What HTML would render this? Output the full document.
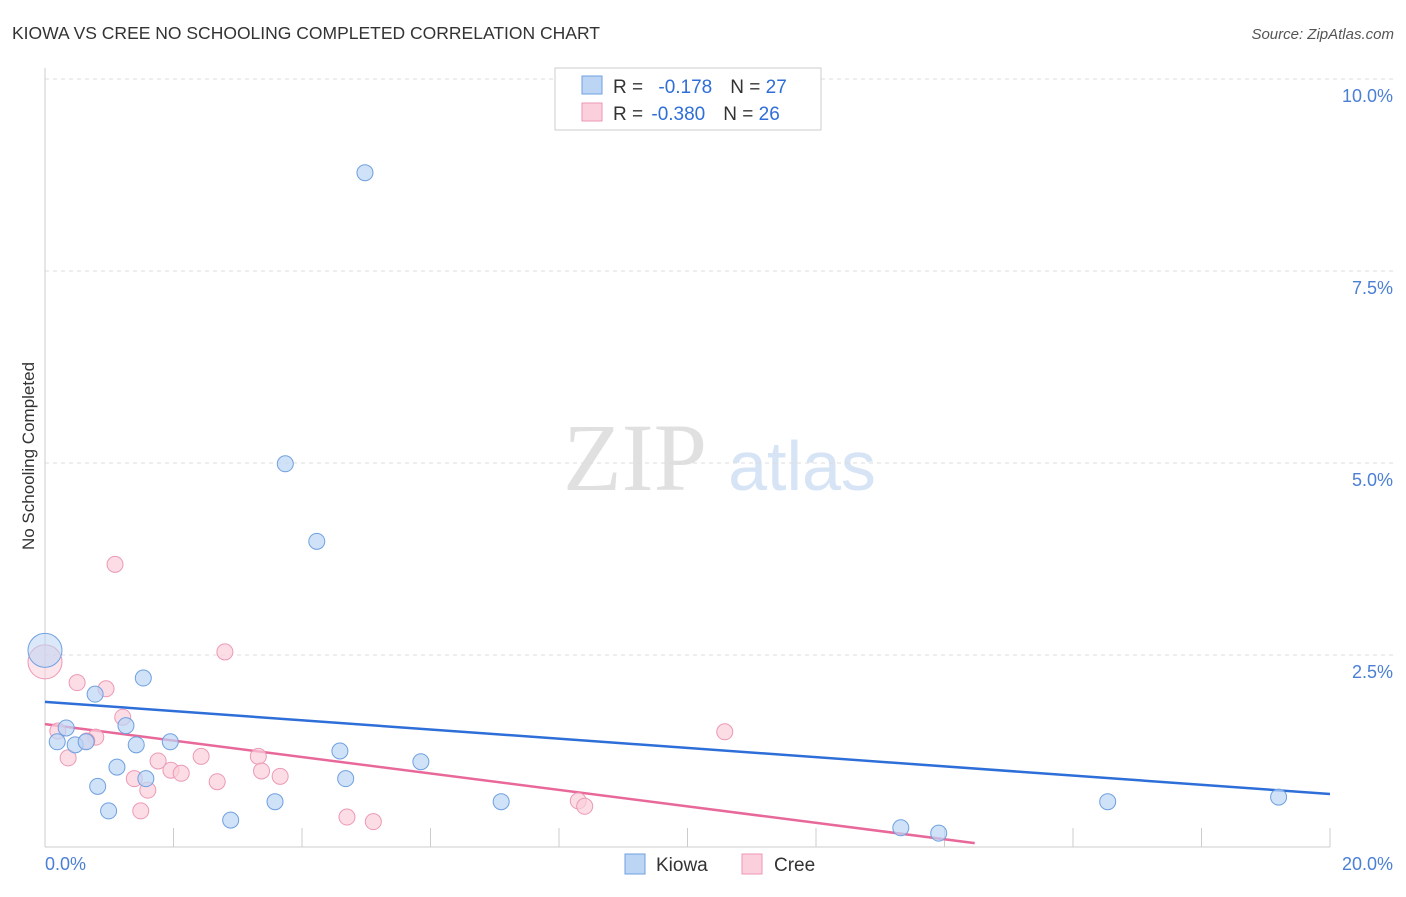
<!DOCTYPE html>
<html><head><meta charset="utf-8"><style>
body{margin:0;background:#fff;font-family:"Liberation Sans",sans-serif;}
</style></head><body>
<svg id="chart" width="1406" height="892" font-family="Liberation Sans, sans-serif">
<text x="12" y="39" font-size="17.5" fill="#333">KIOWA VS CREE NO SCHOOLING COMPLETED CORRELATION CHART</text>
<text x="1394" y="39" font-size="15" fill="#555" font-style="italic" text-anchor="end">Source: ZipAtlas.com</text>
<text x="34" y="456" font-size="17" fill="#333" text-anchor="middle" transform="rotate(-90 34 456)">No Schooling Completed</text>
<g><text x="635" y="490" font-size="96" fill="#e0e0e0" style="font-family:'Liberation Serif',serif" text-anchor="middle">ZIP</text><text x="802" y="490" font-size="70" fill="#d6e4f5" text-anchor="middle">atlas</text></g>
<g id="grid"></g><g id="axes"></g><g id="lines"></g><g id="pts"></g>
<g>
<rect x="555" y="68" width="266" height="62" fill="#fff" stroke="#ccc"/>
<rect x="582" y="76" width="20" height="18" fill="#bcd5f5" stroke="#6fa0e0"/>
<rect x="582" y="103" width="20" height="18" fill="#fbcfdc" stroke="#ec99b4"/>
<text x="613" y="93" font-size="19" fill="#333">R = <tspan fill="#2e6ed8" dx="10">-0.178</tspan><tspan fill="#333" dx="18">N = </tspan><tspan fill="#2e6ed8">27</tspan></text>
<text x="613" y="120" font-size="19" fill="#333">R = <tspan fill="#2e6ed8" dx="3">-0.380</tspan><tspan fill="#333" dx="18">N = </tspan><tspan fill="#2e6ed8">26</tspan></text>
</g>
<g>
<rect x="625" y="854" width="20" height="20" fill="#bcd5f5" stroke="#6fa0e0"/>
<text x="656" y="871" font-size="19" fill="#333">Kiowa</text>
<rect x="742" y="854" width="20" height="20" fill="#fbcfdc" stroke="#ec99b4"/>
<text x="774" y="871" font-size="19" fill="#333">Cree</text>
</g>
</svg>
<script>
const kiowaX=[4.98,3.74,4.23,0,1.53,0.78,0.33,1.26,0.19,0.47,0.64,1.42,1.95,4.59,5.85,1.12,1.57,4.68,0.82,0.99,2.89,3.58,7.10,16.54,19.2,13.32,13.91];
const kiowaY=[8.78,4.99,3.98,2.56,2.20,1.99,1.55,1.58,1.37,1.33,1.37,1.33,1.37,1.25,1.11,1.04,0.89,0.89,0.79,0.47,0.35,0.59,0.59,0.59,0.65,0.25,0.18];
const creeX=[0,1.09,2.80,0.50,0.95,1.21,0.20,0.79,0.36,2.43,3.32,1.76,1.96,2.12,3.37,3.66,1.39,1.60,2.68,1.49,4.70,5.11,8.30,8.40,10.58,0.65];
const creeY=[2.41,3.68,2.54,2.14,2.06,1.69,1.51,1.43,1.16,1.18,1.18,1.12,1.00,0.96,0.99,0.92,0.89,0.74,0.85,0.47,0.39,0.33,0.60,0.53,1.50,1.38];
const kiowaTrend=[1.89,0.69];
const creeTrend=[1.60,0.05,14.47];
const yTicks=[2.5,5,7.5,10];
const yTickLabels=["2.5%","5.0%","7.5%","10.0%"];
const xTicks=[2,4,6,8,10,12,14,16,18,20];
const NS="http://www.w3.org/2000/svg";
const sx=v=>45+v*64.25, sy=v=>847-v*76.8;
function mk(parent,tag,attrs){const e=document.createElementNS(NS,tag);for(const k in attrs)e.setAttribute(k,attrs[k]);document.getElementById(parent).appendChild(e);return e;}
yTicks.forEach((t,i)=>{
 const l=mk('grid','line',{x1:45,x2:1394,y1:sy(t),y2:sy(t),stroke:'#ddd','stroke-dasharray':'4,4'});
 
 
 const tx=mk('grid','text',{x:1393,y:sy(t)+23,'font-size':18,fill:'#4a7fd4','text-anchor':'end'});
 tx.textContent=yTickLabels[i];
 
 
});
let a=mk('axes','line',{x1:45,x2:45,y1:68,y2:847,stroke:'#ccc'});


a=mk('axes','line',{x1:45,x2:1330,y1:847,y2:847,stroke:'#ccc'});


xTicks.forEach(t=>{const l=mk('axes','line',{x1:sx(t),x2:sx(t),y1:828,y2:847,stroke:'#ccc'});
 
 });
let t0=mk('axes','text',{x:45,y:870,'font-size':18,fill:'#4a7fd4'});t0.textContent='0.0%';


let t1=mk('axes','text',{x:1393,y:870,'font-size':18,fill:'#4a7fd4','text-anchor':'end'});t1.textContent='20.0%';


function dots(xs,ys,fill,stroke,name){xs.forEach((x,i)=>{const big=(x===0);
 const c=mk('pts','circle',{cx:sx(x),cy:sy(ys[i]),r:big?17:8,fill:fill,'fill-opacity':big?0.55:0.7,stroke:stroke,'stroke-width':1});
 
 });}
dots(creeX,creeY,'#fbcfdc','#ec99b4','cree-point');
dots(kiowaX,kiowaY,'#bcd5f5','#6fa0e0','kiowa-point');
let l=mk('lines','line',{x1:sx(0),y1:sy(kiowaTrend[0]),x2:sx(20),y2:sy(kiowaTrend[1]),stroke:'#2e6ed8','stroke-width':2.5});


l=mk('lines','line',{x1:sx(0),y1:sy(creeTrend[0]),x2:sx(creeTrend[2]),y2:sy(creeTrend[1]),stroke:'#e8689a','stroke-width':2.5});


</script>
</body></html>
